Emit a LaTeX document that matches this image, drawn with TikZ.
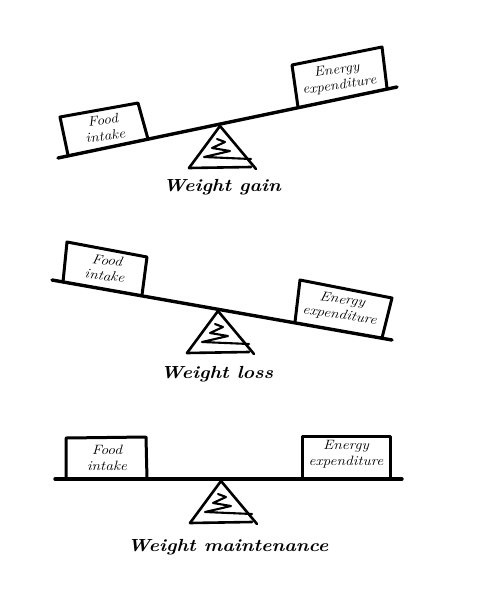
\documentclass[tikz,border=0pt]{standalone}
\begin{document}
\begin{tikzpicture}[x=1pt,y=-1pt,
  beam/.style={line width=3.4pt,line cap=round},
  boxline/.style={line width=3pt,line join=round,line cap=round},
  fl/.style={line width=2.6pt,line join=round,line cap=round},
  zz/.style={line width=2.1pt,line join=round,line cap=round},
  boxtext/.style={font=\fontsize{13.5}{15.5}\selectfont\itshape,align=center,inner sep=0pt,xscale=1.15},
  caption/.style={font=\fontsize{17.5}{18}\selectfont\bfseries\itshape,inner sep=0pt,xscale=1.12}]
\useasboundingbox (0,0) rectangle (491,600);
\newcommand\drawfulcrum[1]{%
\begin{scope}[shift={#1}]
\draw[fl] (-31,42) -- (0,0) -- (36,43);
\draw[fl] (-31,42) -- (31,41);
\draw[zz] (-3,13) -- (5,16) -- (-8,22) -- (10,25) -- (-16,31) -- (31,33);
\end{scope}}
% ---------- Panel 1: Weight gain ----------
\coordinate (b1l) at (58,158);
\coordinate (b1r) at (397,87);
\draw[beam] (b1l) -- (b1r);
\draw[boxline] (68,155) -- (60,117) -- (138,103) -- (148,139);
\draw[boxline] (298,107) -- (292,65) -- (382,47) -- (387,88);
\node[boxtext,rotate=8] (f1) at (104,128) {Food\\intake};
\node[boxtext,rotate=9] (e1) at (338,78) {Energy\\expenditure};
\drawfulcrum{(220,126)}
\node[caption] (c1) at (222,187) {Weight gain};
% ---------- Panel 2: Weight loss ----------
\coordinate (b2l) at (52,280);
\coordinate (b2r) at (392,340);
\draw[beam] (b2l) -- (b2r);
\draw[boxline] (63,282) -- (67,242) -- (147,257) -- (142,295);
\draw[boxline] (295,322) -- (300,280) -- (392,298) -- (382,338);
\node[boxtext,rotate=-8] (f2) at (106,268) {Food\\intake};
\node[boxtext,rotate=-9] (e2) at (341,308) {Energy\\expenditure};
\drawfulcrum{(218,311)}
\node[caption] (c2) at (217,374) {Weight loss};
% ---------- Panel 3: Weight maintenance ----------
\coordinate (b3l) at (55,479);
\coordinate (b3r) at (402,479);
\draw[beam] (b3l) -- (b3r);
\draw[boxline] (66,479) -- (66,438) -- (146,437) -- (147,479);
\draw[boxline] (302,479) -- (302,436) -- (390,436) -- (390,479);
\node[boxtext] (f3) at (107,458) {Food\\intake};
\node[boxtext] (e3) at (346,454) {Energy\\expenditure};
\drawfulcrum{(221,481)}
\node[caption] (c3) at (228,547) {Weight maintenance};
\end{tikzpicture}
\end{document}
